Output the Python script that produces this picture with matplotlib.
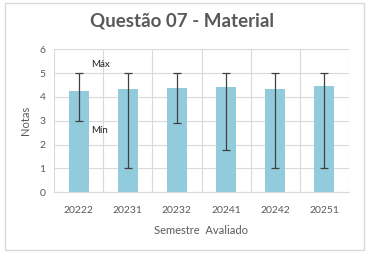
import numpy as np
import matplotlib.pyplot as plt
from matplotlib.patches import Rectangle

semestres = ['20222', '20231', '20232', '20241', '20242', '20251']
media = [4.26, 4.34, 4.38, 4.43, 4.34, 4.47]
minimo = [3.0, 1.0, 2.9, 1.78, 1.0, 1.0]
maximo = [5.0, 5.0, 5.0, 5.0, 5.0, 5.0]

plt.rcParams['font.family'] = ['Lato', 'DejaVu Sans']
txt = '#595959'
grid = '#d9d9d9'

fig = plt.figure(figsize=(3.68, 2.56), dpi=100)
ax = fig.add_axes([54 / 368, 1 - 192.3 / 256, (349 - 54) / 368, (192.3 - 49.3) / 256])

x = np.arange(len(semestres))
media = np.array(media)
yerr = [media - np.array(minimo), np.array(maximo) - media]
ax.bar(x, media, width=0.41, color='#92cbdc', zorder=2)
ax.errorbar(x, media, yerr=yerr, fmt='none', ecolor='#404040', elinewidth=0.9,
            capsize=3, capthick=0.9, zorder=3)

ax.text(0.25, 5.35, 'Máx', fontsize=7, color='#222222', va='center')
ax.text(0.25, 2.6, 'Mín', fontsize=7, color='#222222', va='center')

ax.set_xlim(-0.5, 5.5)
ax.set_ylim(0, 6)
ax.set_xticks(x)
ax.set_xticklabels(semestres)
ax.set_yticks(range(7))
ax.set_xticks(np.arange(-0.5, 6, 1), minor=True)
ax.grid(axis='y', color=grid, lw=0.8, zorder=0)
ax.grid(axis='x', which='minor', color=grid, lw=0.8, zorder=0)
ax.tick_params(which='both', length=0, colors=txt, labelsize=7.5)
ax.tick_params(axis='x', pad=10)
ax.tick_params(axis='y', pad=6)
for s in ['top', 'right', 'left']:
    ax.spines[s].set_visible(False)
ax.spines['bottom'].set_color(grid)

ax.set_ylabel('Notas', color=txt, fontsize=8, labelpad=6)
ax.set_xlabel('Semestre  Avaliado', color=txt, fontsize=8, labelpad=7)

fig.text(182 / 368, 1 - 21 / 256, 'Questão 07 - Material', ha='center', va='center',
         fontsize=13.5, fontweight='bold', color=txt)

fig.patches.append(Rectangle((5 / 368, 1 - 250 / 256), 359 / 368, 247 / 256,
                             transform=fig.transFigure, fill=False,
                             edgecolor='#d9d9d9', lw=1))

fig.savefig('out.png', dpi=100)
